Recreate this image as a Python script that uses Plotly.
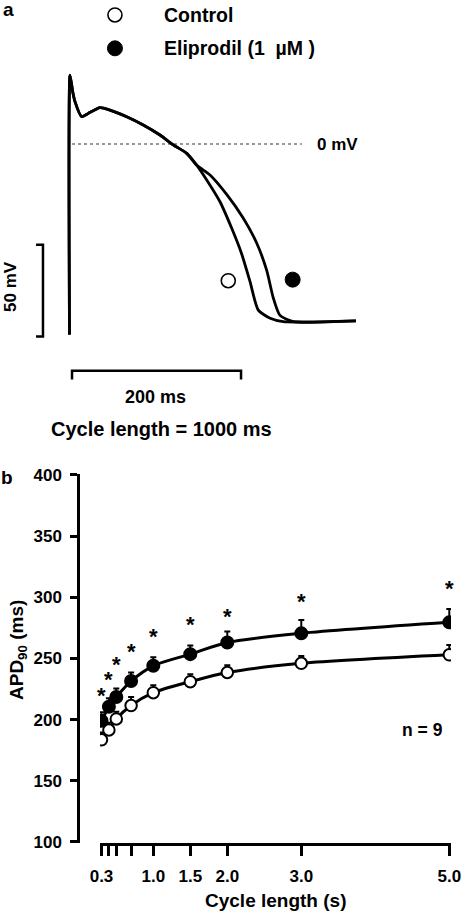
import plotly.graph_objects as go

W, H = 463, 912

# ---------------- Panel b data ----------------
cycle_length = [0.3, 0.4, 0.5, 0.7, 1.0, 1.5, 2.0, 3.0, 5.0]
x_ticks = [0.3, 1.0, 1.5, 2.0, 3.0, 5.0]
x_tick_labels = ["0.3", "1.0", "1.5", "2.0", "3.0", "5.0"]
x_minor_ticks = [0.4, 0.5, 0.7]
y_ticks = [100, 150, 200, 250, 300, 350, 400]
apd_control = [183.5, 191.5, 200.5, 211.5, 222, 231, 238.5, 246, 253]
sem_control = [6, 6, 6, 7, 6, 6, 6, 6, 8]
apd_elip = [199, 210.5, 218.5, 231.5, 244, 253.5, 263, 270.5, 279.5]
sem_elip = [7, 7, 7, 7, 7, 7, 9, 11, 11]
star_levels = [222.5, 235, 247.5, 258, 270.5, 280, 287, 299, 310]

# ---------------- Panel a data (action potential traces) ----------------
t_shared = [0, 0.6, 3.8, 6.5, 14.4, 22.2, 36.1, 47.9, 67.7, 87.3, 107.1, 122.8, 138.7, 150.5]
v_shared = [-104, 37.6, 28.5, 23.1, 14.9, 16.7, 19.8, 18.5, 14.9, 10.4, 4.9, -0.5, -5.1, -11.5]
t_control = [162.4, 178.1, 192.0, 203.8, 213.6, 223.4, 237.5, 253.0, 339.0]
v_control = [-19.6, -31.5, -46.0, -60.0, -75.0, -90.6, -95.1, -96.9, -96.5]
t_elip = [166.3, 186.0, 205.7, 221.5, 233.4, 241.2, 249.1, 264.9, 339.0]
v_elip = [-16.9, -27.5, -40.5, -54.0, -69.0, -84.0, -93.5, -96.9, -96.5]

FONT = "Liberation Sans, Arial, sans-serif"


def px(x):
    return x / W


def py(y):
    return 1 - y / H


fig = go.Figure()

# ----- Panel a -----
fig.add_trace(go.Scatter(
    x=[3, 275], y=[0, 0], mode="lines", xaxis="x2", yaxis="y2",
    line=dict(color="#333", width=1, dash="dot"), showlegend=False, hoverinfo="skip"))
fig.add_trace(go.Scatter(
    x=t_shared + t_control, y=v_shared + v_control, mode="lines", xaxis="x2", yaxis="y2",
    line=dict(color="black", width=2.8, shape="spline", smoothing=0.6), showlegend=False))
fig.add_trace(go.Scatter(
    x=t_shared + t_elip, y=v_shared + v_elip, mode="lines", xaxis="x2", yaxis="y2",
    line=dict(color="black", width=2.8, shape="spline", smoothing=0.6), showlegend=False))
# scale bars
fig.add_trace(go.Scatter(
    x=[-39.6, -31.4, -31.4, -39.6], y=[-55, -55, -105, -105], mode="lines", xaxis="x2", yaxis="y2",
    line=dict(color="black", width=2.5), showlegend=False))
fig.add_trace(go.Scatter(
    x=[3, 3, 203, 203], y=[-128.5, -123.7, -123.7, -128.5], mode="lines", xaxis="x2", yaxis="y2",
    line=dict(color="black", width=2.5), showlegend=False))
# markers identifying traces + legend markers
fig.add_trace(go.Scatter(
    x=[187.9, 53.8], y=[-74.6, 70.4], mode="markers", xaxis="x2", yaxis="y2",
    marker=dict(symbol="circle", size=14, color="white", line=dict(color="black", width=1.6)),
    showlegend=False))
fig.add_trace(go.Scatter(
    x=[264.1, 53.8], y=[-74.0, 52.2], mode="markers", xaxis="x2", yaxis="y2",
    marker=dict(symbol="circle", size=15, color="black", line=dict(color="black", width=1)),
    showlegend=False))

# ----- Panel b -----
fig.add_trace(go.Scatter(
    x=cycle_length, y=apd_control, mode="lines+markers", xaxis="x", yaxis="y",
    line=dict(color="black", width=3, shape="spline", smoothing=0.8),
    marker=dict(symbol="circle", size=11.5, color="white", line=dict(color="black", width=2)),
    error_y=dict(type="data", symmetric=False, array=sem_control, arrayminus=[0] * len(sem_control),
                 color="black", thickness=2, width=3),
    name="Control", showlegend=False))
fig.add_trace(go.Scatter(
    x=cycle_length, y=apd_elip, mode="lines+markers", xaxis="x", yaxis="y",
    line=dict(color="black", width=3, shape="spline", smoothing=0.8),
    marker=dict(symbol="circle", size=12, color="black", line=dict(color="black", width=2)),
    error_y=dict(type="data", symmetric=False, array=sem_elip, arrayminus=[0] * len(sem_elip),
                 color="black", thickness=2, width=3),
    name="Eliprodil (1 µM)", showlegend=False))

annotations = []
for cx, sl in zip(cycle_length, star_levels):
    annotations.append(dict(x=cx, y=sl, xref="x", yref="y", text="*", showarrow=False,
                            yshift=-3, font=dict(size=22, family=FONT, color="black", weight="bold")))


def add_text(x, y, text, size, xanchor="center", angle=0):
    annotations.append(dict(x=px(x), y=py(y), xref="paper", yref="paper", text=text,
                            showarrow=False, xanchor=xanchor, yanchor="middle", textangle=angle,
                            font=dict(size=size, family=FONT, color="black", weight="bold")))


add_text(8.5, 10, "a", 19)
add_text(7, 477, "b", 19)
add_text(162, 15, "Control", 19.5, xanchor="left")
add_text(162, 48, "Eliprodil (1  µM )", 19.5, xanchor="left")
add_text(315, 144, "0 mV", 17, xanchor="left")
add_text(10, 287, "50 mV", 17, angle=-90)
add_text(155, 397, "200 ms", 18)
add_text(161, 429, "Cycle length = 1000 ms", 20)
add_text(422, 730, "n = 9", 17.5)
add_text(275, 900, "Cycle length (s)", 19)
add_text(18, 650, "APD<sub>90</sub> (ms)", 19, angle=-90)

fig.update_layout(
    width=W, height=H, margin=dict(l=0, r=0, t=0, b=0, pad=0), autosize=False,
    paper_bgcolor="white", plot_bgcolor="rgba(0,0,0,0)",
    font=dict(family=FONT, color="black", weight="bold"),
    annotations=annotations,
    xaxis=dict(domain=[px(100), px(451)], range=[0.2797, 5.023], anchor="y",
               tickmode="array", tickvals=x_ticks, ticktext=x_tick_labels,
               showline=True, linecolor="black", linewidth=2.5,
               ticks="outside", ticklen=10, tickwidth=2.5, tickcolor="black",
               minor=dict(tickmode="array", tickvals=x_minor_ticks, ticks="outside",
                          ticklen=10, tickwidth=2.5, tickcolor="black", showgrid=False),
               ticklabelstandoff=6, automargin=False,
               tickfont=dict(size=17, family=FONT, color="black", weight="bold"),
               showgrid=False, zeroline=False),
    yaxis=dict(domain=[py(843), py(474)], range=[99.1, 400.8], anchor="free", position=px(78),
               tickmode="array", tickvals=y_ticks,
               showline=True, linecolor="black", linewidth=2.5,
               ticks="outside", ticklen=7, tickwidth=2.5, tickcolor="black",
               ticklabelstandoff=5, automargin=False,
               tickfont=dict(size=17, family=FONT, color="black", weight="bold"),
               showgrid=False, zeroline=False),
    xaxis2=dict(domain=[0, 1], range=[-82.25, 465.7], anchor="y2", visible=False, automargin=False),
    yaxis2=dict(domain=[0, 1], range=[-419, 78.56], anchor="x2", visible=False, automargin=False),
)

fig.write_html("out.html", config={"displayModeBar": False},
               post_script="document.body.style.margin='0px';document.body.style.overflow='hidden';")
